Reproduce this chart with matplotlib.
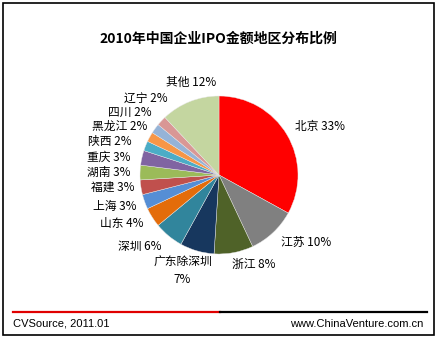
import numpy as np
import matplotlib
matplotlib.use("Agg")
import matplotlib.pyplot as plt
from matplotlib.patches import Rectangle
from matplotlib.lines import Line2D

plt.rcParams['font.family'] = ['Noto Sans CJK SC', 'DejaVu Sans']

# --- data ---
regions = ['北京', '江苏', '浙江', '广东除深圳', '深圳', '山东', '上海', '福建',
           '湖南', '重庆', '陕西', '黑龙江', '四川', '辽宁', '其他']
shares = [33, 10, 8, 7, 6, 4, 3, 3, 3, 3, 2, 2, 2, 2, 12]
colors = ['#FF0000', '#808080', '#4F6228', '#17375E', '#31859C', '#E46C0A',
          '#558ED5', '#C0504D', '#9BBB59', '#8064A2', '#4BACC6', '#F79646',
          '#95B3D7', '#D99795', '#C4D6A0']

# label nudges (angle shift in deg, radius factor) - excel style placement
ang_shift = [1.7, -0.8, -2.5, -4.6, 1.0, 0.4, 0.7, -0.9, 0, 1.0, 0.5, -5.4, -6.8, -13.3, -4.6]
lab_rad = [1.14, 1.16, 1.14, 1.30, 1.16, 1.14, 1.12, 1.08, 1.12, 1.14, 1.19, 1.10, 1.17, 1.17, 1.22]

W, H = 437, 337
fig = plt.figure(figsize=(W / 100, H / 100), dpi=100)

# pie centre (219,175) px, radius 79 px
R, L = 79, 1.6
cx, cy = 219, H - 175
side = 2 * L * R
ax = fig.add_axes([(cx - side / 2) / W, (cy - side / 2) / H, side / W, side / H])

wedges, _ = ax.pie(shares, colors=colors, startangle=90, counterclock=False,
                   wedgeprops=dict(linewidth=0.3, edgecolor='#e8e8e8'))
ax.set_xlim(-L, L)
ax.set_ylim(-L, L)
ax.axis('off')

for i, w in enumerate(wedges):
    mid = np.deg2rad((w.theta1 + w.theta2) / 2 + ang_shift[i])
    x, y = lab_rad[i] * np.cos(mid), lab_rad[i] * np.sin(mid)
    name = regions[i]
    if name == '广东除深圳':
        txt, ha = f'{name}\n{shares[i]}%', 'center'
    elif name == '其他':
        txt, ha = f'{name} {shares[i]}%', 'center'
    else:
        txt, ha = f'{name} {shares[i]}%', ('left' if x > 0 else 'right')
    ax.text(x, y, txt, ha=ha, va='center', fontsize=8.5, linespacing=1.45)

# title
fig.text(218 / W, 1 - 39 / H, '2010年中国企业IPO金额地区分布比例',
         ha='center', va='center', fontsize=10, fontweight='bold')

# bottom rule: red then black
ly = 1 - 312 / H
fig.add_artist(Line2D([13 / W, 220 / W], [ly, ly], color='#E00000', linewidth=1.6))
fig.add_artist(Line2D([220 / W, 427 / W], [ly, ly], color='black', linewidth=1.6))

# footer
fig.text(13 / W, 1 - 324 / H, 'CVSource, 2011.01', ha='left', va='center',
         fontsize=8, family=['Liberation Sans', 'DejaVu Sans'])
fig.text(423 / W, 1 - 324 / H, 'www.ChinaVenture.com.cn', ha='right', va='center',
         fontsize=8, family=['Liberation Sans', 'DejaVu Sans'])

# outer frame
fig.add_artist(Rectangle((2.5 / W, 2.5 / H), 431 / W, 332 / H, transform=fig.transFigure,
                         fill=False, edgecolor='black', linewidth=1.2))

fig.savefig('out.png', dpi=100)
